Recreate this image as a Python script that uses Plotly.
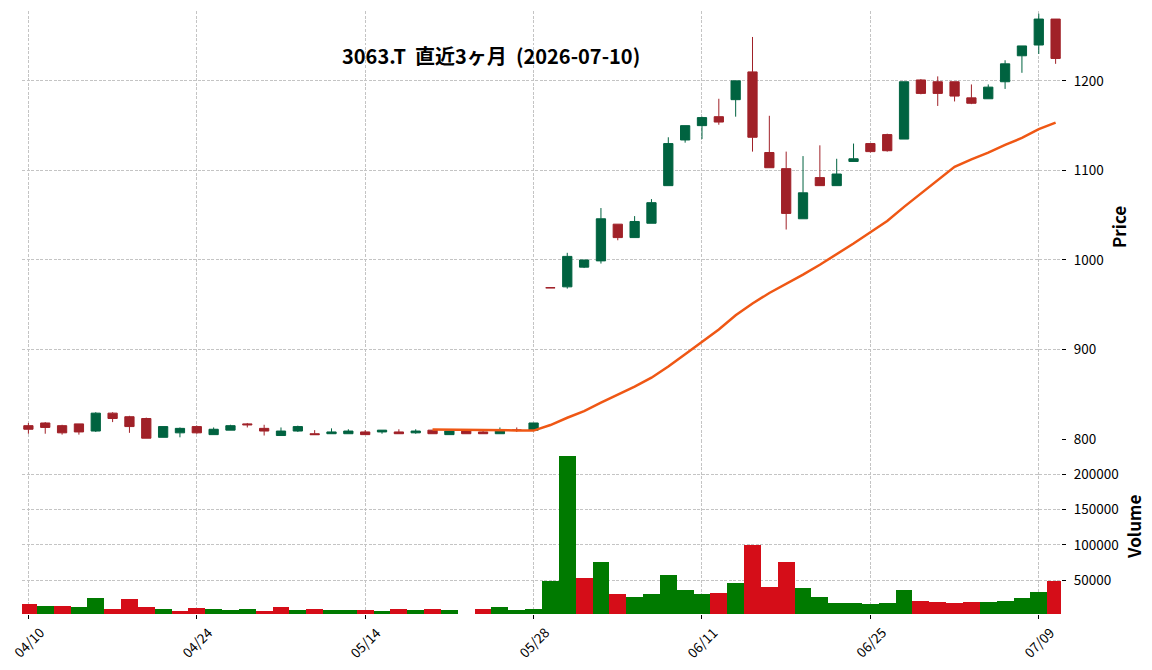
import pandas as pd
import plotly.graph_objects as go

# ---------------- data ----------------
dates = [
    "2026-04-10", "2026-04-13", "2026-04-14", "2026-04-15", "2026-04-16", "2026-04-17",
    "2026-04-20", "2026-04-21", "2026-04-22", "2026-04-23", "2026-04-24",
    "2026-04-27", "2026-04-28", "2026-04-30", "2026-05-01", "2026-05-07", "2026-05-08",
    "2026-05-11", "2026-05-12", "2026-05-13", "2026-05-14", "2026-05-15",
    "2026-05-18", "2026-05-19", "2026-05-20", "2026-05-21", "2026-05-22",
    "2026-05-25", "2026-05-26", "2026-05-27", "2026-05-28", "2026-05-29",
    "2026-06-01", "2026-06-02", "2026-06-03", "2026-06-04", "2026-06-05",
    "2026-06-08", "2026-06-09", "2026-06-10", "2026-06-11", "2026-06-12",
    "2026-06-15", "2026-06-16", "2026-06-17", "2026-06-18", "2026-06-19",
    "2026-06-22", "2026-06-23", "2026-06-24", "2026-06-25", "2026-06-26",
    "2026-06-29", "2026-06-30", "2026-07-01", "2026-07-02", "2026-07-03",
    "2026-07-06", "2026-07-07", "2026-07-08", "2026-07-09", "2026-07-10",
]

opens = [815, 818, 815, 817, 809, 829, 825, 823, 802, 807,
         814, 805, 810, 817, 812, 804, 809, 806, 806, 806,
         808, 808, 808, 807, 810, 805, 809, 808, 806, 810,
         810, 969, 970, 992, 999, 1040, 1025, 1041, 1083, 1134,
         1150, 1160, 1179, 1210, 1120, 1102, 1046, 1092, 1083, 1110,
         1130, 1140, 1135, 1201, 1199, 1199, 1181, 1180, 1199, 1228,
         1240, 1269]
highs = [818, 819, 816, 817, 830, 830, 826, 824, 814, 813,
         815, 813, 816, 818, 816, 813, 815, 810, 812, 811,
         810, 810, 811, 811, 810, 809, 809, 811, 813, 813,
         818, 969, 1008, 1000, 1058, 1040, 1049, 1068, 1137, 1150,
         1160, 1180, 1200, 1249, 1161, 1121, 1116, 1128, 1113, 1130,
         1130, 1141, 1199, 1202, 1205, 1199, 1196, 1196, 1223, 1239,
         1275, 1269]
lows = [806, 806, 805, 805, 808, 819, 807, 801, 802, 802,
        806, 805, 810, 813, 804, 804, 808, 805, 806, 806,
        805, 806, 806, 806, 806, 805, 806, 806, 806, 808,
        809, 969, 968, 991, 996, 1022, 1025, 1041, 1083, 1131,
        1135, 1151, 1160, 1121, 1103, 1034, 1046, 1083, 1083, 1110,
        1120, 1121, 1135, 1185, 1172, 1177, 1174, 1180, 1191, 1209,
        1230, 1219]
closes = [811, 813, 807, 808, 829, 823, 814, 801, 814, 812,
          807, 811, 815, 816, 809, 809, 814, 805, 808, 809,
          805, 810, 806, 809, 806, 809, 806, 806, 809, 810,
          818, 969, 1004, 1000, 1046, 1025, 1043, 1064, 1130, 1150,
          1159, 1154, 1200, 1137, 1103, 1052, 1075, 1083, 1096, 1113,
          1121, 1122, 1199, 1186, 1186, 1183, 1175, 1193, 1219, 1239,
          1269, 1225]
volumes = [16000, 13000, 13000, 12000, 25000, 9000, 23000, 12000, 9000, 6600,
           10500, 9000, 7500, 9000, 6600, 12000, 7500, 9000, 7500, 7500,
           7500, 6000, 9000, 7500, 9000, 7500, None, 9000, 12000, 7500,
           9000, 48000, 226000, 53000, 75000, 30000, 26000, 30000, 57500, 36000,
           30000, 32000, 46000, 99000, 40500, 76000, 39000, 26000, 17500, 17500,
           16000, 17500, 36000, 20500, 19000, 17500, 19000, 19000, 20500, 24500,
           33000, 49000]

ma_window = 25
tick_every = 10
title_text = "3063.T  直近3ヶ月  (2026-07-10)"

# ---------------- derived ----------------
n = len(dates)
idx = list(range(n))
ma = pd.Series(closes, dtype=float).rolling(ma_window).mean()

up_i = [i for i in idx if closes[i] > opens[i]]
dn_i = [i for i in idx if not closes[i] > opens[i]]

vol_up = [opens[0] < closes[0]] + [closes[i] > closes[i - 1] for i in range(1, n)]

C_UP, C_DN = "#006340", "#a02128"
V_UP, V_DN = "#007a00", "#d50d18"
MA_C = "#ef5714"
FONT = "Noto Sans CJK JP"
GRID = "#c4c4c4"

W, H = 1152, 670
def px_x(p): return p / W
def px_y(p): return 1 - p / H

fig = go.Figure()

def candle(sel, color):
    return go.Candlestick(
        x=[idx[i] for i in sel],
        open=[opens[i] for i in sel], high=[highs[i] for i in sel],
        low=[lows[i] for i in sel], close=[closes[i] for i in sel],
        increasing=dict(line=dict(color=color, width=1), fillcolor=color),
        decreasing=dict(line=dict(color=color, width=1), fillcolor=color),
        xaxis="x2", yaxis="y2", showlegend=False, hoverinfo="skip",
    )

fig.add_trace(candle(up_i, C_UP))
fig.add_trace(candle(dn_i, C_DN))
fig.add_trace(go.Scatter(x=idx, y=ma, mode="lines", line=dict(color=MA_C, width=2.5),
                         xaxis="x2", yaxis="y2", showlegend=False, hoverinfo="skip"))
fig.add_trace(go.Bar(x=idx, y=volumes, width=1.0,
                     marker=dict(color=[V_UP if u else V_DN for u in vol_up], line=dict(width=0)),
                     xaxis="x", yaxis="y", showlegend=False, hoverinfo="skip"))

tickpos = list(range(0, n, tick_every))
ticklab = [dates[i][5:].replace("-", "/") for i in tickpos]

vmin = 0.3 * min(v for v in volumes if v is not None)
vmax = 1.1 * max(v for v in volumes if v is not None)

xdom = [px_x(22), px_x(1061)]
xr = [-0.38, n - 1 + 0.32]

grid_common = dict(showgrid=True, gridcolor=GRID, gridwidth=0.8, griddash="3px,1.5px",
                   zeroline=False, showline=False, automargin=False)

fig.update_layout(
    width=W, height=H, autosize=False,
    margin=dict(l=0, r=0, t=0, b=0, pad=0, autoexpand=False),
    paper_bgcolor="white", plot_bgcolor="white",
    boxgap=0.45, boxgroupgap=0.0,
    bargap=0,
    showlegend=False,
    font=dict(family=FONT, size=13.5, color="#000000"),
    xaxis=dict(domain=xdom, range=xr, anchor="y", tickmode="array", tickvals=tickpos,
               ticktext=ticklab, showticklabels=False, ticks="outside", ticklen=4,
               tickcolor="#000000", tickwidth=1, rangeslider=dict(visible=False),
               **grid_common),
    yaxis=dict(domain=[px_y(614), px_y(440)], range=[vmin, vmax], anchor="x", side="right",
               tickmode="array", tickvals=[50000, 100000, 150000, 200000],
               ticktext=["50000", "100000", "150000", "200000"],
               ticks="outside", ticklen=4, tickcolor="#000000", tickwidth=1,
               ticklabelstandoff=5,
               tickfont=dict(family=FONT, size=13.5, color="#000000"), **grid_common),
    xaxis2=dict(domain=xdom, range=xr, anchor="y2", matches="x", tickmode="array",
                tickvals=tickpos, showticklabels=False, ticks="",
                rangeslider=dict(visible=False), **grid_common),
    yaxis2=dict(domain=[px_y(440), px_y(11)], range=[799, 1278], anchor="x2", side="right",
                tickmode="array", tickvals=[800, 900, 1000, 1100, 1200],
                ticks="outside", ticklen=4, tickcolor="#000000", tickwidth=1,
                ticklabelstandoff=5,
                tickfont=dict(family=FONT, size=13.5, color="#000000"), **grid_common),
)

# rotated date labels centred on ticks
for p, lab in zip(tickpos, ticklab):
    fig.add_annotation(x=p, xref="x", y=px_y(642), yref="paper", text=lab, showarrow=False,
                       textangle=-45, xanchor="center", yanchor="middle",
                       font=dict(family=FONT, size=13.5, color="#000000"))

fig.add_annotation(x=px_x(491), y=px_y(55), xref="paper", yref="paper",
                   text="<b>" + title_text + "</b>", showarrow=False,
                   xanchor="center", yanchor="middle",
                   font=dict(family=FONT, size=20, color="#000000"))
fig.add_annotation(x=px_x(1118), y=px_y(227), xref="paper", yref="paper",
                   text="<b>Price</b>", showarrow=False, textangle=-90,
                   xanchor="center", yanchor="middle",
                   font=dict(family=FONT, size=17, color="#000000"))
fig.add_annotation(x=px_x(1133), y=px_y(527), xref="paper", yref="paper",
                   text="<b>Volume</b>", showarrow=False, textangle=-90,
                   xanchor="center", yanchor="middle",
                   font=dict(family=FONT, size=17, color="#000000"))

fig.write_html("out.html", config={"responsive": False})
